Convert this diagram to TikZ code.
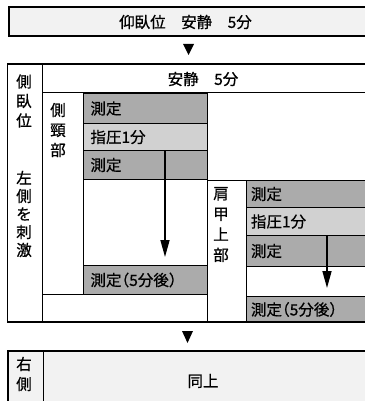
\documentclass[tikz,border=0pt]{standalone}
\usepackage{fontspec}
\newfontfamily\jp[RawFeature={embolden=0.7}]{Noto Sans CJK JP}
\newfontfamily\jph[RawFeature={+halt;embolden=0.7}]{Noto Sans CJK JP}
\usetikzlibrary{arrows.meta}
\begin{document}
\begin{tikzpicture}[x=1pt,y=-1pt,
  outer/.style={line width=1.3pt},
  inner/.style={line width=1pt},
  lbl/.style={font=\jp\fontsize{15.5}{19}\selectfont, inner sep=0pt},
  vlbl/.style={lbl, align=center},
  cellbase/.style={draw, line width=1pt, anchor=north west, inner ysep=0pt, text width=110pt, align=left, font=\jp\fontsize{15.5}{19}\selectfont},
  cellL/.style={cellbase, inner xsep=7pt},
  cellR/.style={cellbase, inner xsep=4.5pt},
  dark/.style={fill=black!33},
  light/.style={fill=black!18},
  flow/.style={line width=1.6pt, -{Triangle[width=9pt,length=17pt]}},
  tri/.style={fill=black},
]
\useasboundingbox (0,0) rectangle (364,401);
\fill[white] (0,0) rectangle (364,401);

% top box
\draw[outer, fill=black!5] (9,7) rectangle (372,36);
\node[lbl] (t0) at (185.5,22) {仰臥位　安静　5分};
\fill[tri] (183,44) -- (194,44) -- (188.5,55) -- cycle;

% main frame
\draw[outer] (7.5,64) rectangle (372,322);
\draw[inner] (42,64) -- (42,322);
\draw[inner] (42,93) -- (372,93);
\node[lbl] (t1) at (203,79) {安静　5分};
\node[vlbl, font=\jp\fontsize{15.5}{19.5}\selectfont] (v1) at (24,101) {側\\臥\\位};
\node[vlbl, font=\jp\fontsize{15.5}{18}\selectfont] (v2) at (24,214) {左\\側\\を\\刺\\激};

% left column (側頸部)
\node[vlbl, font=\jp\fontsize{15.5}{20}\selectfont] (v3) at (58,130) {側\\頸\\部};
\node[cellL, dark, minimum height=30pt] (a1) at (83,93) {測定};
\node[cellL, light, minimum height=27pt] (a2) at (83,123) {指圧1分};
\node[cellL, dark, minimum height=29pt] (a3) at (83,150) {測定};
\draw[inner, fill=white] (83,179) rectangle (207,265);
\node[cellL, dark, minimum height=29pt] (a4) at (83,265) {測定{\jph （}5分後{\jph ）}};
\draw[inner] (42,294) -- (207,294);
\draw[inner] (207,93) -- (207,322);
\coordinate (la1) at (165,150);
\coordinate (la2) at (165,257);
\draw[flow] (la1) -- (la2);

% right column (肩甲上部)
\draw[inner] (207,180) -- (372,180);
\draw[inner] (246,180) -- (246,322);
\node[vlbl, font=\jp\fontsize{15.5}{20.5}\selectfont] (v4) at (221,224.5) {肩\\甲\\上\\部};
\node[cellR, dark, minimum height=27pt] (b1) at (246,180) {測定};
\node[cellR, light, minimum height=28pt] (b2) at (246,207) {指圧1分};
\node[cellR, dark, minimum height=31pt] (b3) at (246,235) {測定};
\draw[inner, fill=white] (246,266) rectangle (372,296);
\node[cellR, dark, minimum height=26pt] (b4) at (246,296) {測定{\jph （}5分後{\jph ）}};
\coordinate (ra1) at (327,235);
\coordinate (ra2) at (327,288);
\draw[flow] (ra1) -- (ra2);
\draw[outer] (7.5,322) -- (372,322);

% second triangle
\fill[tri] (182,331) -- (193,331) -- (187.5,343) -- cycle;

% bottom box
\draw[outer, fill=black!5] (8,351) rectangle (372,415);
\draw[inner] (43,351) -- (43,415);
\node[vlbl, font=\jp\fontsize{15.5}{20}\selectfont] (v5) at (24,374) {右\\側};
\node[lbl] (t2) at (203,381) {同上};
\end{tikzpicture}
\end{document}
